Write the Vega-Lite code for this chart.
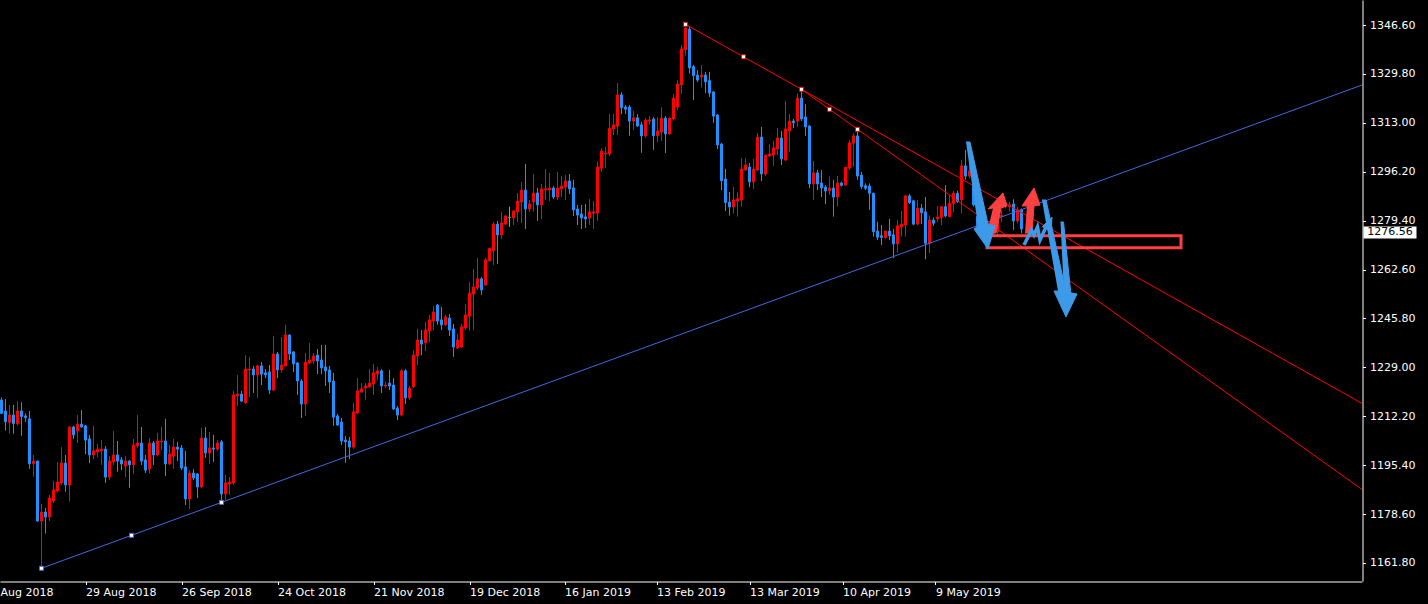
{
"$schema":"https://vega.github.io/schema/vega-lite/v6.json",
"width":1362,"height":581,
"autosize":{"type":"none"},
"padding":{"left":0,"top":0,"right":66,"bottom":23},
"background":"#000000",
"config":{"view":{"stroke":null},"axis":{"labelFont":"DejaVu Sans","labelFontSize":11,"labelColor":"#ffffff","domainColor":"#ffffff","tickColor":"#ffffff","grid":false}},
"datasets":{
"bars":[
{"i":0,"o":1217.8,"h":1218.7,"l":1213.0,"c":1213.2},
{"i":1,"o":1214.0,"h":1218.1,"l":1207.3,"c":1210.3},
{"i":2,"o":1210.1,"h":1216.1,"l":1206.2,"c":1212.6},
{"i":3,"o":1212.6,"h":1216.1,"l":1206.2,"c":1209.7},
{"i":4,"o":1209.7,"h":1217.4,"l":1209.0,"c":1214.0},
{"i":5,"o":1214.0,"h":1217.0,"l":1205.5,"c":1212.1},
{"i":6,"o":1212.3,"h":1213.2,"l":1210.3,"c":1211.7},
{"i":7,"o":1211.3,"h":1214.0,"l":1194.1,"c":1195.9},
{"i":8,"o":1195.9,"h":1198.9,"l":1191.5,"c":1196.8},
{"i":9,"o":1196.8,"h":1197.0,"l":1176.0,"c":1176.2},
{"i":10,"o":1176.2,"h":1182.1,"l":1159.97,"c":1179.3},
{"i":11,"o":1179.3,"h":1180.7,"l":1171.9,"c":1177.6},
{"i":12,"o":1177.6,"h":1185.2,"l":1176.2,"c":1184.1},
{"i":13,"o":1183.1,"h":1190.0,"l":1182.4,"c":1186.9},
{"i":14,"o":1186.5,"h":1196.5,"l":1186.0,"c":1189.6},
{"i":15,"o":1189.3,"h":1201.6,"l":1188.6,"c":1196.1},
{"i":16,"o":1196.1,"h":1198.9,"l":1186.3,"c":1188.6},
{"i":17,"o":1188.6,"h":1208.7,"l":1182.9,"c":1208.5},
{"i":18,"o":1208.5,"h":1208.9,"l":1204.4,"c":1205.8},
{"i":19,"o":1207.1,"h":1212.6,"l":1203.0,"c":1209.5},
{"i":20,"o":1209.5,"h":1214.3,"l":1208.2,"c":1208.5},
{"i":21,"o":1208.9,"h":1209.2,"l":1199.2,"c":1204.0},
{"i":22,"o":1204.4,"h":1205.8,"l":1196.1,"c":1198.9},
{"i":23,"o":1198.9,"h":1208.9,"l":1197.5,"c":1200.3},
{"i":24,"o":1200.0,"h":1202.7,"l":1198.2,"c":1200.9},
{"i":25,"o":1200.3,"h":1204.0,"l":1195.5,"c":1200.9},
{"i":26,"o":1200.9,"h":1202.0,"l":1189.3,"c":1191.3},
{"i":27,"o":1191.3,"h":1198.5,"l":1190.3,"c":1196.8},
{"i":28,"o":1196.5,"h":1207.1,"l":1195.5,"c":1198.9},
{"i":29,"o":1198.9,"h":1203.7,"l":1193.1,"c":1196.8},
{"i":30,"o":1197.2,"h":1198.2,"l":1193.7,"c":1195.8},
{"i":31,"o":1195.1,"h":1198.5,"l":1191.3,"c":1196.8},
{"i":32,"o":1196.8,"h":1197.2,"l":1187.6,"c":1195.5},
{"i":33,"o":1195.5,"h":1204.4,"l":1192.4,"c":1202.3},
{"i":34,"o":1202.0,"h":1212.6,"l":1201.3,"c":1203.0},
{"i":35,"o":1203.0,"h":1208.5,"l":1195.5,"c":1196.8},
{"i":36,"o":1197.2,"h":1198.9,"l":1192.7,"c":1193.7},
{"i":37,"o":1194.1,"h":1204.7,"l":1192.4,"c":1203.0},
{"i":38,"o":1203.0,"h":1203.7,"l":1195.5,"c":1198.9},
{"i":39,"o":1198.9,"h":1206.5,"l":1198.6,"c":1203.7},
{"i":40,"o":1203.4,"h":1208.5,"l":1200.6,"c":1203.7},
{"i":41,"o":1203.7,"h":1211.3,"l":1191.7,"c":1195.8},
{"i":42,"o":1195.8,"h":1202.3,"l":1195.5,"c":1199.2},
{"i":43,"o":1198.5,"h":1204.4,"l":1194.1,"c":1201.6},
{"i":44,"o":1201.6,"h":1203.4,"l":1196.8,"c":1200.9},
{"i":45,"o":1201.3,"h":1202.3,"l":1193.7,"c":1194.4},
{"i":46,"o":1194.8,"h":1200.3,"l":1181.7,"c":1183.8},
{"i":47,"o":1183.8,"h":1193.7,"l":1180.3,"c":1192.7},
{"i":48,"o":1192.7,"h":1194.1,"l":1190.3,"c":1191.0},
{"i":49,"o":1192.4,"h":1192.6,"l":1184.1,"c":1187.9},
{"i":50,"o":1187.9,"h":1208.2,"l":1187.6,"c":1204.7},
{"i":51,"o":1204.7,"h":1208.5,"l":1197.9,"c":1199.6},
{"i":52,"o":1199.6,"h":1206.8,"l":1195.8,"c":1201.3},
{"i":53,"o":1201.3,"h":1205.8,"l":1196.5,"c":1200.9},
{"i":54,"o":1200.9,"h":1204.0,"l":1200.3,"c":1203.0},
{"i":55,"o":1203.4,"h":1204.0,"l":1182.6,"c":1185.5},
{"i":56,"o":1185.5,"h":1192.0,"l":1183.4,"c":1189.3},
{"i":57,"o":1188.9,"h":1191.3,"l":1185.2,"c":1189.6},
{"i":58,"o":1189.3,"h":1220.9,"l":1188.6,"c":1219.5},
{"i":59,"o":1219.2,"h":1226.4,"l":1215.7,"c":1219.8},
{"i":60,"o":1219.8,"h":1220.9,"l":1217.1,"c":1217.4},
{"i":61,"o":1216.8,"h":1233.2,"l":1216.5,"c":1228.4},
{"i":62,"o":1228.1,"h":1232.6,"l":1218.8,"c":1228.4},
{"i":63,"o":1228.4,"h":1229.5,"l":1220.2,"c":1226.4},
{"i":64,"o":1226.4,"h":1229.8,"l":1218.5,"c":1229.5},
{"i":65,"o":1229.5,"h":1230.8,"l":1222.9,"c":1226.7},
{"i":66,"o":1227.1,"h":1228.4,"l":1225.3,"c":1226.4},
{"i":67,"o":1227.4,"h":1229.8,"l":1219.8,"c":1221.2},
{"i":68,"o":1221.2,"h":1239.8,"l":1220.9,"c":1233.6},
{"i":69,"o":1233.6,"h":1234.3,"l":1225.3,"c":1228.1},
{"i":70,"o":1228.1,"h":1239.4,"l":1227.1,"c":1229.8},
{"i":71,"o":1229.5,"h":1243.6,"l":1229.2,"c":1240.1},
{"i":72,"o":1240.1,"h":1240.4,"l":1231.5,"c":1233.6},
{"i":73,"o":1234.3,"h":1234.6,"l":1227.4,"c":1230.2},
{"i":74,"o":1230.5,"h":1230.8,"l":1219.5,"c":1224.3},
{"i":75,"o":1224.3,"h":1225.0,"l":1211.6,"c":1216.4},
{"i":76,"o":1216.4,"h":1233.9,"l":1212.3,"c":1230.8},
{"i":77,"o":1230.5,"h":1237.4,"l":1230.2,"c":1231.5},
{"i":78,"o":1231.2,"h":1233.9,"l":1230.2,"c":1232.9},
{"i":79,"o":1233.2,"h":1235.3,"l":1226.7,"c":1231.2},
{"i":80,"o":1231.5,"h":1236.7,"l":1226.7,"c":1228.8},
{"i":81,"o":1229.1,"h":1236.7,"l":1222.6,"c":1227.8},
{"i":82,"o":1228.1,"h":1229.5,"l":1220.2,"c":1224.0},
{"i":83,"o":1224.3,"h":1227.1,"l":1208.9,"c":1211.9},
{"i":84,"o":1212.3,"h":1213.0,"l":1208.9,"c":1209.2},
{"i":85,"o":1210.2,"h":1211.6,"l":1202.3,"c":1203.7},
{"i":86,"o":1204.0,"h":1205.4,"l":1196.2,"c":1203.4},
{"i":87,"o":1203.7,"h":1205.1,"l":1197.5,"c":1201.6},
{"i":88,"o":1201.6,"h":1216.8,"l":1201.0,"c":1213.7},
{"i":89,"o":1213.3,"h":1225.3,"l":1213.0,"c":1220.9},
{"i":90,"o":1220.5,"h":1223.6,"l":1220.2,"c":1221.6},
{"i":91,"o":1221.9,"h":1223.6,"l":1217.8,"c":1222.6},
{"i":92,"o":1222.3,"h":1228.4,"l":1221.9,"c":1223.6},
{"i":93,"o":1223.3,"h":1230.2,"l":1219.5,"c":1227.1},
{"i":94,"o":1226.7,"h":1229.1,"l":1224.7,"c":1227.8},
{"i":95,"o":1227.8,"h":1228.4,"l":1220.2,"c":1222.6},
{"i":96,"o":1222.6,"h":1224.0,"l":1221.9,"c":1222.9},
{"i":97,"o":1223.6,"h":1228.1,"l":1221.2,"c":1222.6},
{"i":98,"o":1222.9,"h":1225.3,"l":1214.3,"c":1214.7},
{"i":99,"o":1215.0,"h":1215.7,"l":1210.9,"c":1212.6},
{"i":100,"o":1212.6,"h":1228.4,"l":1212.3,"c":1227.8},
{"i":101,"o":1227.8,"h":1228.4,"l":1216.4,"c":1218.5},
{"i":102,"o":1218.5,"h":1222.6,"l":1217.8,"c":1221.9},
{"i":103,"o":1222.3,"h":1234.9,"l":1222.0,"c":1233.2},
{"i":104,"o":1232.9,"h":1242.2,"l":1229.8,"c":1238.4},
{"i":105,"o":1238.4,"h":1241.8,"l":1233.2,"c":1237.0},
{"i":106,"o":1237.4,"h":1244.6,"l":1234.6,"c":1241.8},
{"i":107,"o":1241.5,"h":1247.0,"l":1237.7,"c":1245.3},
{"i":108,"o":1244.9,"h":1250.1,"l":1241.8,"c":1248.0},
{"i":109,"o":1250.4,"h":1250.8,"l":1243.6,"c":1244.9},
{"i":110,"o":1245.3,"h":1249.7,"l":1241.8,"c":1243.6},
{"i":111,"o":1243.6,"h":1247.0,"l":1243.2,"c":1246.3},
{"i":112,"o":1245.9,"h":1247.3,"l":1239.8,"c":1241.8},
{"i":113,"o":1242.2,"h":1243.9,"l":1232.6,"c":1236.0},
{"i":114,"o":1235.6,"h":1240.5,"l":1235.3,"c":1238.4},
{"i":115,"o":1236.0,"h":1243.9,"l":1235.6,"c":1242.9},
{"i":116,"o":1242.5,"h":1250.8,"l":1241.8,"c":1247.0},
{"i":117,"o":1246.6,"h":1258.3,"l":1241.6,"c":1254.5},
{"i":118,"o":1254.2,"h":1262.8,"l":1241.7,"c":1256.6},
{"i":119,"o":1256.3,"h":1266.6,"l":1255.6,"c":1259.4},
{"i":120,"o":1259.4,"h":1260.0,"l":1253.9,"c":1255.6},
{"i":121,"o":1257.3,"h":1266.6,"l":1257.0,"c":1265.9},
{"i":122,"o":1265.6,"h":1270.0,"l":1265.3,"c":1269.9},
{"i":123,"o":1269.1,"h":1279.0,"l":1264.2,"c":1278.2},
{"i":124,"o":1278.2,"h":1279.3,"l":1264.5,"c":1274.5},
{"i":125,"o":1274.5,"h":1282.4,"l":1273.1,"c":1278.6},
{"i":126,"o":1278.2,"h":1281.3,"l":1277.9,"c":1281.0},
{"i":127,"o":1280.5,"h":1284.2,"l":1277.3,"c":1280.5},
{"i":128,"o":1280.3,"h":1283.0,"l":1277.9,"c":1282.7},
{"i":129,"o":1282.4,"h":1288.9,"l":1278.9,"c":1286.1},
{"i":130,"o":1285.8,"h":1292.7,"l":1278.6,"c":1289.9},
{"i":131,"o":1289.9,"h":1298.9,"l":1276.5,"c":1283.4},
{"i":132,"o":1283.4,"h":1286.5,"l":1282.4,"c":1285.1},
{"i":133,"o":1285.8,"h":1295.4,"l":1282.5,"c":1288.9},
{"i":134,"o":1288.9,"h":1290.6,"l":1279.3,"c":1284.8},
{"i":135,"o":1284.8,"h":1292.0,"l":1279.9,"c":1290.3},
{"i":136,"o":1289.9,"h":1297.1,"l":1286.5,"c":1290.3},
{"i":137,"o":1289.9,"h":1295.8,"l":1286.1,"c":1290.6},
{"i":138,"o":1290.6,"h":1291.3,"l":1286.8,"c":1287.5},
{"i":139,"o":1287.5,"h":1296.1,"l":1286.5,"c":1290.6},
{"i":140,"o":1290.3,"h":1294.7,"l":1287.5,"c":1291.3},
{"i":141,"o":1290.9,"h":1295.1,"l":1286.5,"c":1293.0},
{"i":142,"o":1293.0,"h":1295.4,"l":1288.5,"c":1290.3},
{"i":143,"o":1290.6,"h":1293.4,"l":1281.0,"c":1283.1},
{"i":144,"o":1283.4,"h":1284.8,"l":1277.9,"c":1281.3},
{"i":145,"o":1281.7,"h":1284.8,"l":1276.5,"c":1280.3},
{"i":146,"o":1280.7,"h":1285.1,"l":1276.9,"c":1280.0},
{"i":147,"o":1280.3,"h":1286.8,"l":1277.9,"c":1282.4},
{"i":148,"o":1282.0,"h":1286.1,"l":1276.5,"c":1282.4},
{"i":149,"o":1282.0,"h":1299.7,"l":1279.3,"c":1297.8},
{"i":150,"o":1297.4,"h":1304.2,"l":1296.2,"c":1303.3},
{"i":151,"o":1302.3,"h":1304.8,"l":1297.4,"c":1302.6},
{"i":152,"o":1302.3,"h":1316.1,"l":1301.6,"c":1311.1},
{"i":153,"o":1310.9,"h":1316.1,"l":1308.8,"c":1312.3},
{"i":154,"o":1311.9,"h":1326.6,"l":1308.8,"c":1322.6},
{"i":155,"o":1322.6,"h":1323.5,"l":1316.0,"c":1318.2},
{"i":156,"o":1318.4,"h":1319.1,"l":1316.0,"c":1317.7},
{"i":157,"o":1318.4,"h":1319.1,"l":1308.6,"c":1313.6},
{"i":158,"o":1313.6,"h":1317.1,"l":1310.5,"c":1314.7},
{"i":159,"o":1314.7,"h":1316.0,"l":1311.6,"c":1311.9},
{"i":160,"o":1312.3,"h":1313.3,"l":1302.7,"c":1308.5},
{"i":161,"o":1308.5,"h":1314.6,"l":1307.8,"c":1313.9},
{"i":162,"o":1313.6,"h":1315.3,"l":1312.3,"c":1314.0},
{"i":163,"o":1314.3,"h":1315.0,"l":1303.7,"c":1308.6},
{"i":164,"o":1308.6,"h":1315.0,"l":1306.4,"c":1310.2},
{"i":165,"o":1309.8,"h":1318.4,"l":1306.8,"c":1314.6},
{"i":166,"o":1314.6,"h":1315.3,"l":1302.6,"c":1309.2},
{"i":167,"o":1309.2,"h":1314.9,"l":1308.9,"c":1314.6},
{"i":168,"o":1314.3,"h":1322.9,"l":1314.0,"c":1321.5},
{"i":169,"o":1318.4,"h":1327.7,"l":1317.4,"c":1326.3},
{"i":170,"o":1326.1,"h":1339.7,"l":1322.9,"c":1338.4},
{"i":171,"o":1338.1,"h":1346.84,"l":1336.1,"c":1345.5},
{"i":172,"o":1345.2,"h":1345.9,"l":1329.9,"c":1331.9},
{"i":173,"o":1332.3,"h":1332.9,"l":1320.8,"c":1329.2},
{"i":174,"o":1329.4,"h":1331.1,"l":1327.0,"c":1327.7},
{"i":175,"o":1328.7,"h":1332.9,"l":1325.1,"c":1329.4},
{"i":176,"o":1329.4,"h":1330.5,"l":1323.2,"c":1327.1},
{"i":177,"o":1327.5,"h":1330.5,"l":1321.9,"c":1323.2},
{"i":178,"o":1323.6,"h":1323.9,"l":1313.0,"c":1315.3},
{"i":179,"o":1315.7,"h":1316.0,"l":1304.0,"c":1305.4},
{"i":180,"o":1305.7,"h":1306.1,"l":1289.9,"c":1293.1},
{"i":181,"o":1293.7,"h":1297.2,"l":1282.7,"c":1285.6},
{"i":182,"o":1285.8,"h":1289.2,"l":1281.1,"c":1284.1},
{"i":183,"o":1284.1,"h":1291.0,"l":1281.8,"c":1286.5},
{"i":184,"o":1286.1,"h":1289.2,"l":1280.8,"c":1286.9},
{"i":185,"o":1286.5,"h":1300.9,"l":1284.2,"c":1297.1},
{"i":186,"o":1296.8,"h":1300.9,"l":1296.4,"c":1298.5},
{"i":187,"o":1297.8,"h":1299.2,"l":1290.9,"c":1292.7},
{"i":188,"o":1292.7,"h":1300.6,"l":1290.3,"c":1297.1},
{"i":189,"o":1296.8,"h":1309.5,"l":1296.4,"c":1308.1},
{"i":190,"o":1308.1,"h":1311.6,"l":1293.0,"c":1295.5},
{"i":191,"o":1295.4,"h":1301.9,"l":1294.7,"c":1301.9},
{"i":192,"o":1301.6,"h":1305.7,"l":1301.3,"c":1302.3},
{"i":193,"o":1301.9,"h":1306.8,"l":1298.2,"c":1304.4},
{"i":194,"o":1304.0,"h":1311.2,"l":1301.9,"c":1307.8},
{"i":195,"o":1307.8,"h":1310.2,"l":1298.5,"c":1300.6},
{"i":196,"o":1300.2,"h":1320.5,"l":1299.9,"c":1310.9},
{"i":197,"o":1310.2,"h":1316.0,"l":1303.0,"c":1313.6},
{"i":198,"o":1313.6,"h":1314.3,"l":1311.2,"c":1313.0},
{"i":199,"o":1313.6,"h":1323.2,"l":1311.6,"c":1321.5},
{"i":200,"o":1321.5,"h":1324.51,"l":1313.6,"c":1314.3},
{"i":201,"o":1315.0,"h":1319.4,"l":1308.5,"c":1311.6},
{"i":202,"o":1311.9,"h":1312.2,"l":1290.6,"c":1292.0},
{"i":203,"o":1292.0,"h":1299.9,"l":1286.5,"c":1295.8},
{"i":204,"o":1295.8,"h":1296.8,"l":1289.9,"c":1292.0},
{"i":205,"o":1292.3,"h":1296.8,"l":1287.5,"c":1290.6},
{"i":206,"o":1290.9,"h":1291.6,"l":1285.1,"c":1289.6},
{"i":207,"o":1289.6,"h":1294.5,"l":1288.2,"c":1290.6},
{"i":208,"o":1290.6,"h":1293.4,"l":1280.8,"c":1287.5},
{"i":209,"o":1287.5,"h":1294.7,"l":1284.2,"c":1292.3},
{"i":210,"o":1292.3,"h":1292.8,"l":1291.1,"c":1291.5},
{"i":211,"o":1291.6,"h":1297.9,"l":1291.5,"c":1297.7},
{"i":212,"o":1297.5,"h":1307.1,"l":1296.8,"c":1306.1},
{"i":213,"o":1306.0,"h":1309.4,"l":1297.9,"c":1308.5},
{"i":214,"o":1308.5,"h":1310.77,"l":1293.4,"c":1294.7},
{"i":215,"o":1295.0,"h":1296.1,"l":1290.2,"c":1291.1},
{"i":216,"o":1291.4,"h":1292.2,"l":1289.9,"c":1290.5},
{"i":217,"o":1291.3,"h":1292.2,"l":1283.1,"c":1288.8},
{"i":218,"o":1288.8,"h":1289.0,"l":1273.9,"c":1275.6},
{"i":219,"o":1275.8,"h":1279.0,"l":1272.7,"c":1273.7},
{"i":220,"o":1274.2,"h":1277.9,"l":1271.0,"c":1273.6},
{"i":221,"o":1273.6,"h":1275.9,"l":1273.2,"c":1275.8},
{"i":222,"o":1275.8,"h":1280.0,"l":1272.7,"c":1274.2},
{"i":223,"o":1274.5,"h":1276.5,"l":1266.5,"c":1271.4},
{"i":224,"o":1271.4,"h":1279.6,"l":1268.4,"c":1277.6},
{"i":225,"o":1277.2,"h":1282.7,"l":1273.9,"c":1278.2},
{"i":226,"o":1277.9,"h":1288.2,"l":1273.9,"c":1287.9},
{"i":227,"o":1287.9,"h":1288.6,"l":1285.1,"c":1285.6},
{"i":228,"o":1286.2,"h":1286.5,"l":1277.8,"c":1278.2},
{"i":229,"o":1278.2,"h":1286.5,"l":1277.8,"c":1283.7},
{"i":230,"o":1283.7,"h":1285.1,"l":1278.2,"c":1282.1},
{"i":231,"o":1282.4,"h":1287.5,"l":1266.1,"c":1271.6},
{"i":232,"o":1271.6,"h":1281.2,"l":1268.2,"c":1279.6},
{"i":233,"o":1279.6,"h":1280.5,"l":1277.6,"c":1278.5},
{"i":234,"o":1280.0,"h":1284.4,"l":1279.0,"c":1280.6},
{"i":235,"o":1280.5,"h":1284.2,"l":1277.9,"c":1284.2},
{"i":236,"o":1284.2,"h":1291.6,"l":1280.5,"c":1281.0},
{"i":237,"o":1280.8,"h":1288.2,"l":1280.5,"c":1285.3},
{"i":238,"o":1285.3,"h":1289.6,"l":1282.4,"c":1288.8},
{"i":239,"o":1288.8,"h":1289.7,"l":1285.5,"c":1285.9},
{"i":240,"o":1286.5,"h":1300.2,"l":1281.9,"c":1298.2},
{"i":241,"o":1298.2,"h":1303.7,"l":1293.5,"c":1294.7},
{"i":242,"o":1294.7,"h":1300.2,"l":1293.9,"c":1296.5},
{"i":243,"o":1291.6,"h":1293.4,"l":1284.2,"c":1284.8},
{"i":244,"o":1280.8,"h":1282.0,"l":1275.0,"c":1277.3},
{"i":245,"o":1277.3,"h":1281.0,"l":1273.0,"c":1279.0},
{"i":246,"o":1279.0,"h":1280.0,"l":1272.0,"c":1276.0},
{"i":247,"o":1273.9,"h":1277.0,"l":1272.7,"c":1275.0},
{"i":248,"o":1275.0,"h":1281.0,"l":1273.8,"c":1279.6},
{"i":249,"o":1275.6,"h":1282.0,"l":1274.0,"c":1280.8},
{"i":250,"o":1280.8,"h":1283.0,"l":1279.0,"c":1281.2},
{"i":251,"o":1284.8,"h":1286.5,"l":1283.6,"c":1285.4},
{"i":252,"o":1284.2,"h":1285.9,"l":1282.5,"c":1284.8},
{"i":253,"o":1285.1,"h":1286.7,"l":1276.2,"c":1279.3},
{"i":254,"o":1279.3,"h":1284.2,"l":1278.5,"c":1283.1},
{"i":255,"o":1283.1,"h":1283.6,"l":1275.0,"c":1276.56}
],
"lines":[
{"name":"b","i":10,"p":1159.97},{"name":"b","i":345,"p":1328.44},
{"name":"r1","i":171,"p":1346.84},{"name":"r1","i":345,"p":1212.86},
{"name":"r2","i":200,"p":1324.51},{"name":"r2","i":345,"p":1182.26}
],
"anchors":[
{"name":"b","i":10,"p":1159.97},{"name":"b","i":32.5,"p":1171.29},{"name":"b","i":55,"p":1182.6},
{"name":"r1","i":171,"p":1346.84},{"name":"r1","i":185.5,"p":1335.68},{"name":"r1","i":200,"p":1324.51},
{"name":"r2","i":207,"p":1317.64},{"name":"r2","i":214,"p":1310.77}
],
"zone":[{"i":246.375,"i2":294.875,"p":1270.07,"p2":1274.23}],
"arrows":[
{"g":"red","id":"r1","k":1,"i":246.375,"p":1275.15},
{"g":"red","id":"r1","k":2,"i":248.625,"p":1275.15},
{"g":"red","id":"r1","k":3,"i":249.875,"p":1283.74},
{"g":"red","id":"r1","k":4,"i":251.375,"p":1284.43},
{"g":"red","id":"r1","k":5,"i":250.375,"p":1288.9},
{"g":"red","id":"r1","k":6,"i":246.625,"p":1283.4},
{"g":"red","id":"r1","k":7,"i":247.875,"p":1283.74},
{"g":"red","id":"r2","k":1,"i":255.875,"p":1275.15},
{"g":"red","id":"r2","k":2,"i":257.625,"p":1275.15},
{"g":"red","id":"r2","k":3,"i":258.125,"p":1284.43},
{"g":"red","id":"r2","k":4,"i":259.625,"p":1284.77},
{"g":"red","id":"r2","k":5,"i":258.125,"p":1290.61},
{"g":"red","id":"r2","k":6,"i":255.125,"p":1284.43},
{"g":"red","id":"r2","k":7,"i":256.375,"p":1284.43},
{"g":"blue","id":"b1","k":1,"i":241.125,"p":1306.41},
{"g":"blue","id":"b1","k":2,"i":242.125,"p":1306.41},
{"g":"blue","id":"b1","k":3,"i":246.625,"p":1278.25},
{"g":"blue","id":"b1","k":4,"i":248.375,"p":1277.56},
{"g":"blue","id":"b1","k":5,"i":246.625,"p":1269.66},
{"g":"blue","id":"b1","k":6,"i":243.125,"p":1276.53},
{"g":"blue","id":"b1","k":7,"i":244.125,"p":1277.56},
{"g":"blue","id":"b2","k":1,"i":260.125,"p":1286.49},
{"g":"blue","id":"b2","k":2,"i":261.125,"p":1286.49},
{"g":"blue","id":"b2","k":3,"i":266.125,"p":1254.89},
{"g":"blue","id":"b2","k":4,"i":268.875,"p":1254.2},
{"g":"blue","id":"b2","k":5,"i":266.125,"p":1246.3},
{"g":"blue","id":"b2","k":6,"i":263.125,"p":1255.23},
{"g":"blue","id":"b2","k":7,"i":264.125,"p":1255.23},
{"g":"blue","id":"b3","k":1,"i":264.75,"p":1278.93},
{"g":"blue","id":"b3","k":2,"i":265.5,"p":1278.93},
{"g":"blue","id":"b3","k":3,"i":267.375,"p":1253.86},
{"g":"blue","id":"b3","k":4,"i":265.625,"p":1253.86},
{"g":"blue","id":"b4","k":1,"i":260.125,"p":1277.22},
{"g":"blue","id":"b4","k":2,"i":262.625,"p":1280.65},
{"g":"blue","id":"b4","k":3,"i":262.375,"p":1275.5},
{"g":"zig","id":"z1","k":1,"i":255.625,"p":1271.03},
{"g":"zig","id":"z1","k":2,"i":257.5,"p":1276.19},
{"g":"zig","id":"z1","k":3,"i":258.125,"p":1274.47},
{"g":"zig","id":"z1","k":4,"i":259.0,"p":1277.22},
{"g":"zig","id":"z1","k":5,"i":259.625,"p":1272.75},
{"g":"zig","id":"z1","k":6,"i":261.125,"p":1277.22}
],
"last":[{"last":1276.56}]
},
"layer":[
{"data":{"name":"bars"},
 "mark":{"type":"rule","strokeWidth":1},
 "encoding":{
  "x":{"field":"i","type":"quantitative","scale":{"domain":[-0.375,340.125],"nice":false,"zero":false,"padding":0},
   "axis":{"orient":"bottom","title":null,"offset":0.5,"values":[-0.375,21,45,69,93,117,140.75,163.75,187,210.25,233.5],
   "labelExpr":"datum.value < 0 ? 'Aug 2018' : datum.value < 30 ? '29 Aug 2018' : datum.value < 50 ? '26 Sep 2018' : datum.value < 80 ? '24 Oct 2018' : datum.value < 100 ? '21 Nov 2018' : datum.value < 130 ? '19 Dec 2018' : datum.value < 150 ? '16 Jan 2019' : datum.value < 170 ? '13 Feb 2019' : datum.value < 200 ? '13 Mar 2019' : datum.value < 220 ? '10 Apr 2019' : '9 May 2019'",
   "labelAlign":"left","labelBaseline":"top","labelPadding":2,"tickSize":3,"labelOverlap":false,"labelFlush":false,"labelBound":false,
   "tickOpacity":{"condition":{"test":"datum.value < 0","value":0},"value":1}}},
  "y":{"field":"l","type":"quantitative","scale":{"domain":[1155.6,1355.19],"nice":false,"zero":false,"padding":0},
   "axis":{"orient":"right","title":null,"offset":0.5,"values":[1346.6,1329.8,1313.0,1296.2,1279.4,1262.6,1245.8,1229.0,1212.2,1195.4,1178.6,1161.8],"format":".2f","tickSize":3,"labelPadding":4,"labelOverlap":false,"labelFlush":false}},
  "y2":{"field":"h"},
  "color":{"condition":[{"test":"datum.c > datum.o","value":"#ff0000"},{"test":"datum.c == datum.o","value":"#00ff00"}],"value":"#1e90ff"}}},
{"data":{"name":"bars"},
 "mark":{"type":"bar","size":2,"strokeWidth":1,"opacity":1},
 "encoding":{
  "x":{"field":"i","type":"quantitative"},
  "y":{"field":"o","type":"quantitative"},
  "y2":{"field":"c"},
  "color":{"condition":[{"test":"datum.c > datum.o","value":"#ff0000"},{"test":"datum.c == datum.o","value":"#00ff00"}],"value":"#1e90ff"},
  "stroke":{"condition":[{"test":"datum.c > datum.o","value":"#ff0000"},{"test":"datum.c == datum.o","value":"#00ff00"}],"value":"#1e90ff"}}},
{"data":{"name":"lines"},
 "mark":{"type":"line","clip":true,"strokeWidth":1},
 "encoding":{
  "x":{"field":"i","type":"quantitative"},
  "y":{"field":"p","type":"quantitative"},
  "color":{"field":"name","type":"nominal","scale":{"domain":["b","r1","r2"],"range":["#4169e1","#ff0000","#ff0000"]},"legend":null}}},
{"data":{"name":"anchors"},
 "mark":{"type":"point","shape":"square","size":16,"filled":true,"fill":"#ffffff","strokeWidth":1,"opacity":1},
 "encoding":{
  "x":{"field":"i","type":"quantitative"},
  "y":{"field":"p","type":"quantitative"},
  "stroke":{"field":"name","type":"nominal","scale":{"domain":["b","r1","r2"],"range":["#4169e1","#ff0000","#ff0000"]},"legend":null}}},
{"data":{"name":"zone"},
 "mark":{"type":"rect","filled":false,"stroke":"#ff4040","strokeWidth":3},
 "encoding":{
  "x":{"field":"i","type":"quantitative"},
  "x2":{"field":"i2"},
  "y":{"field":"p","type":"quantitative"},
  "y2":{"field":"p2"}}},
{"data":{"name":"arrows"},
 "transform":[{"filter":"datum.g == 'red'"}],
 "mark":{"type":"line","fill":"#ff4040","stroke":"#ff4040","strokeWidth":1},
 "encoding":{
  "x":{"field":"i","type":"quantitative"},
  "y":{"field":"p","type":"quantitative"},
  "detail":{"field":"id","type":"nominal"},
  "order":{"field":"k","type":"quantitative"}}},
{"data":{"name":"arrows"},
 "transform":[{"filter":"datum.g == 'blue'"}],
 "mark":{"type":"line","fill":"#3c9ae8","stroke":"#3c9ae8","strokeWidth":1},
 "encoding":{
  "x":{"field":"i","type":"quantitative"},
  "y":{"field":"p","type":"quantitative"},
  "detail":{"field":"id","type":"nominal"},
  "order":{"field":"k","type":"quantitative"}}},
{"data":{"name":"arrows"},
 "transform":[{"filter":"datum.g == 'zig'"}],
 "mark":{"type":"line","stroke":"#3c9ae8","strokeWidth":3.5,"strokeJoin":"miter"},
 "encoding":{
  "x":{"field":"i","type":"quantitative"},
  "y":{"field":"p","type":"quantitative"},
  "detail":{"field":"id","type":"nominal"},
  "order":{"field":"k","type":"quantitative"}}},
{"data":{"name":"last"},
 "mark":{"type":"rect","fill":"#ffffff","clip":false},
 "encoding":{
  "x":{"datum":340.5,"type":"quantitative"},
  "x2":{"datum":353.75},
  "y":{"datum":1273.27,"type":"quantitative"},
  "y2":{"datum":1277.39}}},
{"data":{"name":"last"},
 "mark":{"type":"text","font":"DejaVu Sans","fontSize":11,"fill":"#000000","align":"center","baseline":"middle","dy":3.5,"clip":false},
 "encoding":{
  "x":{"datum":347.125,"type":"quantitative"},
  "y":{"field":"last","type":"quantitative"},
  "text":{"field":"last","type":"quantitative","format":".2f"}}}
]
}
